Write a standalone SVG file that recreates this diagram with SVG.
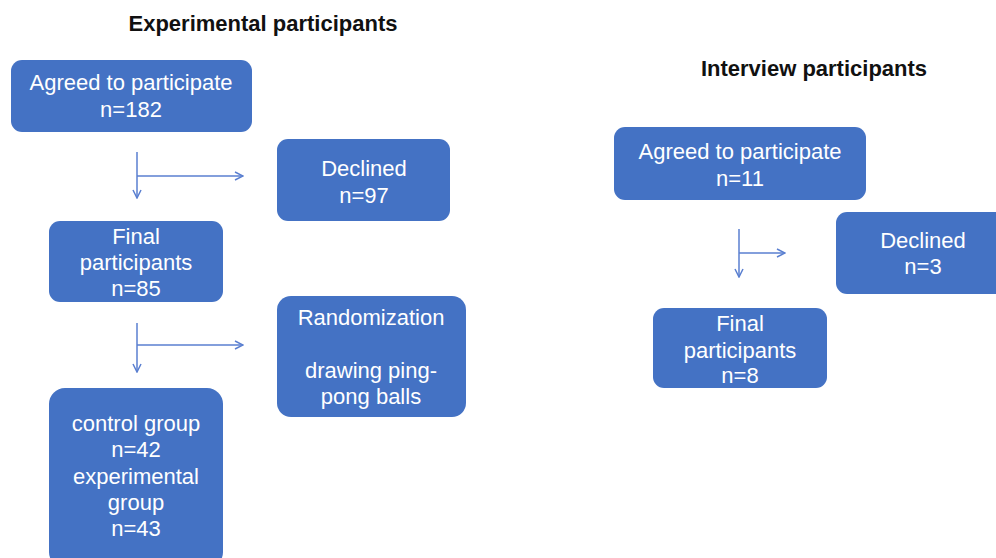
<svg xmlns="http://www.w3.org/2000/svg" width="996" height="558" viewBox="0 0 996 558">
<style>
.box{fill:#4472c4;}
.t{font-family:"Liberation Sans",Arial,sans-serif;font-size:22px;fill:#ffffff;text-anchor:middle;}
.title{font-family:"Liberation Sans",Arial,sans-serif;font-size:22px;font-weight:bold;fill:#111;text-anchor:middle;}
.c{fill:none;stroke:#5a7fd0;stroke-width:1.5;}
</style>
<defs>
<marker id="ah" viewBox="0 0 10 10" refX="9" refY="5" markerWidth="10" markerHeight="10" markerUnits="userSpaceOnUse" orient="auto">
<path d="M1,1 L9,5 L1,9" fill="none" stroke="#5a7fd0" stroke-width="1.5"/>
</marker>
</defs>
<rect width="996" height="558" fill="#ffffff"/>
<text class="title" x="263" y="31">Experimental participants</text>
<text class="title" x="814" y="76">Interview participants</text>
<g id="e_agreed"><rect class="box" x="11" y="60" width="241" height="72" rx="11"/>
<text class="t" x="131" y="90">Agreed to participate</text><text class="t" x="131" y="117">n=182</text></g>
<g id="e_declined"><rect class="box" x="277" y="139" width="173" height="82" rx="11"/>
<text class="t" x="364" y="176">Declined</text><text class="t" x="364" y="203">n=97</text></g>
<g id="e_final"><rect class="box" x="49" y="221" width="174" height="81" rx="11"/>
<text class="t" x="136" y="244">Final</text><text class="t" x="136" y="270">participants</text><text class="t" x="136" y="296">n=85</text></g>
<g id="e_random"><rect class="box" x="277" y="296" width="189" height="121" rx="14"/>
<text class="t" x="371" y="325">Randomization</text><text class="t" x="371" y="378">drawing ping-</text><text class="t" x="371" y="404">pong balls</text></g>
<g id="e_groups"><rect class="box" x="49" y="388" width="174" height="180" rx="16"/>
<text class="t" x="136" y="431">control group</text><text class="t" x="136" y="457">n=42</text><text class="t" x="136" y="484">experimental</text><text class="t" x="136" y="510">group</text><text class="t" x="136" y="536">n=43</text></g>
<g id="i_agreed"><rect class="box" x="614" y="127" width="252" height="73" rx="11"/>
<text class="t" x="740" y="159">Agreed to participate</text><text class="t" x="740" y="186">n=11</text></g>
<g id="i_declined"><rect class="box" x="836" y="212" width="175" height="82" rx="11"/>
<text class="t" x="923" y="248">Declined</text><text class="t" x="923" y="274">n=3</text></g>
<g id="i_final"><rect class="box" x="653" y="308" width="174" height="80" rx="11"/>
<text class="t" x="740" y="331">Final</text><text class="t" x="740" y="358">participants</text><text class="t" x="740" y="383">n=8</text></g>
<g id="connectors">
<path class="c" d="M137,152 V198" marker-end="url(#ah)"/>
<path class="c" d="M137,176 H243" marker-end="url(#ah)"/>
<path class="c" d="M137,323 V372" marker-end="url(#ah)"/>
<path class="c" d="M137,345 H243" marker-end="url(#ah)"/>
<path class="c" d="M739,229 V277" marker-end="url(#ah)"/>
<path class="c" d="M739,253 H785" marker-end="url(#ah)"/>
</g>
</svg>
